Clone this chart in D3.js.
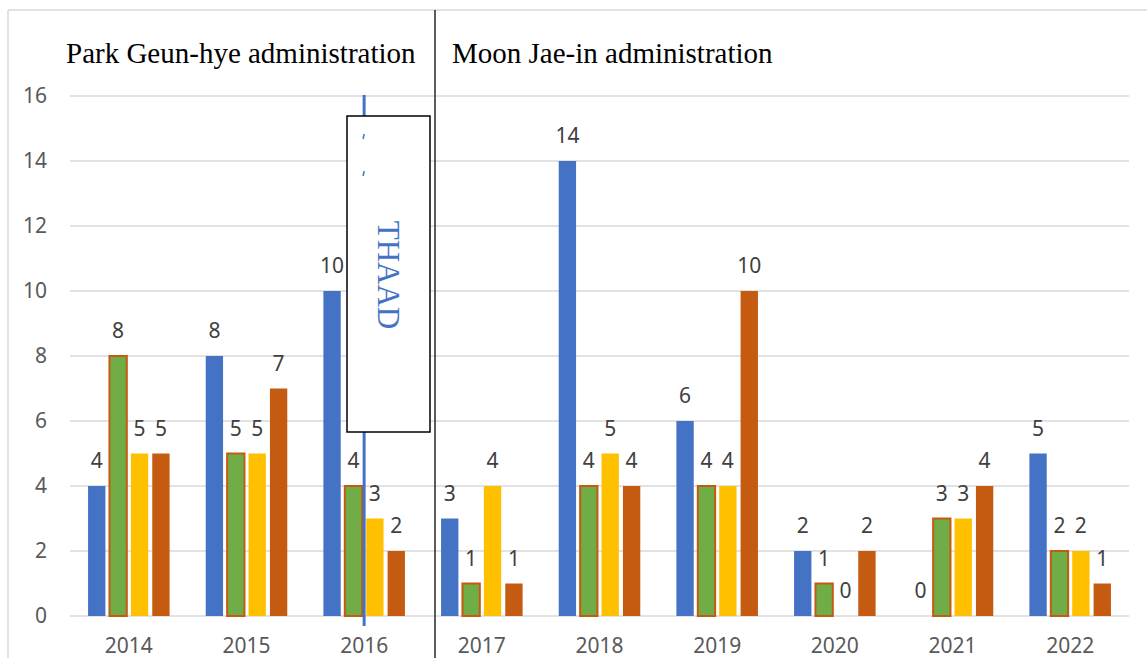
<!DOCTYPE html>
<html>
<head>
<meta charset="utf-8">
<script src="https://cdn.jsdelivr.net/npm/d3@7"></script>
<style>
  body { margin: 0; background: #fff; }
  svg { display: block; }
</style>
</head>
<body>
<svg id="chart"></svg>
<script>
// data
const years = ['2014', '2015', '2016', '2017', '2018', '2019', '2020', '2021', '2022'];
const seriesKeys = ['s1', 's2', 's3', 's4'];
const s1Values = [4, 8, 10, 3, 14, 6, 2, 0, 5];
const s2Values = [8, 5, 4, 1, 4, 4, 1, 3, 2];
const s3Values = [5, 5, 3, 4, 5, 4, 0, 3, 2];
const s4Values = [5, 7, 2, 1, 4, 10, 2, 4, 1];
const yTicks = [0, 2, 4, 6, 8, 10, 12, 14, 16];
const leftTitle = 'Park Geun-hye administration';
const rightTitle = 'Moon Jae-in administration';
const markerLabel = 'THAAD';

const colors = { s1: '#4472C4', s2: '#70AD47', s3: '#FFC000', s4: '#C55A11' };

const width = 1147, height = 658;
const margin = { left: 70, right: 18, top: 96, bottom: 42 };

const rows = years.map((y, i) => ({
    year: y,
    s1: s1Values[i], s2: s2Values[i], s3: s3Values[i], s4: s4Values[i]
}));

const svg = d3.select('#chart')
    .attr('width', width)
    .attr('height', height);

// outer frame (only top and left edges show)
svg.append('line')
    .attr('x1', 8).attr('x2', width).attr('y1', 10).attr('y2', 10)
    .attr('stroke', '#d9d9d9').attr('stroke-width', 1.5);
svg.append('line')
    .attr('x1', 8).attr('x2', 8).attr('y1', 10).attr('y2', height)
    .attr('stroke', '#d9d9d9').attr('stroke-width', 1.5);

const x0 = d3.scaleBand()
    .domain(years)
    .range([margin.left, width - margin.right])
    .paddingInner(0.307)
    .paddingOuter(0.1535);

const x1 = d3.scaleBand()
    .domain(seriesKeys)
    .range([0, x0.bandwidth()])
    .paddingInner(0.19);

const y = d3.scaleLinear()
    .domain([0, 16])
    .range([height - margin.bottom, margin.top]);

// gridlines
svg.append('g')
    .selectAll('line')
    .data(yTicks)
    .join('line')
    .attr('x1', margin.left)
    .attr('x2', width - margin.right)
    .attr('y1', d => y(d))
    .attr('y2', d => y(d))
    .attr('stroke', '#d9d9d9')
    .attr('stroke-width', 1.5);

// y axis
const yAxisG = svg.append('g')
    .attr('transform', `translate(${margin.left},0)`)
    .call(d3.axisLeft(y).tickValues(yTicks).tickSize(0).tickPadding(23))
    .call(g => g.select('.domain').remove());
yAxisG.selectAll('text')
    .attr('font-family', '"Noto Sans", sans-serif')
    .attr('font-size', 21)
    .attr('fill', '#595959');

// x axis
const xAxisG = svg.append('g')
    .attr('transform', `translate(0,${y(0)})`)
    .call(d3.axisBottom(x0).tickSize(0).tickPadding(22))
    .call(g => g.select('.domain').remove());
xAxisG.selectAll('text')
    .attr('font-family', '"Noto Sans", sans-serif')
    .attr('font-size', 21)
    .attr('fill', '#595959');

// bars
const groups = svg.append('g')
    .selectAll('g')
    .data(rows)
    .join('g')
    .attr('transform', d => `translate(${x0(d.year)},0)`);

groups.selectAll('rect')
    .data(d => seriesKeys.map(k => ({ key: k, value: d[k] })))
    .join('rect')
    .attr('x', d => x1(d.key))
    .attr('y', d => y(d.value))
    .attr('width', x1.bandwidth())
    .attr('height', d => y(0) - y(d.value))
    .attr('fill', d => colors[d.key])
    .attr('stroke', d => d.key === 's2' ? '#C55A11' : 'none')
    .attr('stroke-width', 2);

// value labels
groups.selectAll('text.val')
    .data(d => seriesKeys.map(k => ({ key: k, value: d[k] })))
    .join('text')
    .attr('class', 'val')
    .attr('x', d => x1(d.key) + x1.bandwidth() / 2)
    .attr('y', d => y(d.value) - 18)
    .attr('text-anchor', 'middle')
    .attr('font-family', '"Noto Sans", sans-serif')
    .attr('font-size', 21)
    .attr('fill', '#404040')
    .text(d => d.value);

// administration divider
svg.append('line')
    .attr('x1', 435).attr('x2', 435).attr('y1', 10).attr('y2', height)
    .attr('stroke', '#262626').attr('stroke-width', 1.5);

// titles
svg.append('text')
    .attr('x', 66).attr('y', 63)
    .attr('font-family', '"Liberation Serif", "Times New Roman", serif')
    .attr('font-size', 29)
    .attr('fill', '#000')
    .text(leftTitle);
svg.append('text')
    .attr('x', 452).attr('y', 63)
    .attr('font-family', '"Liberation Serif", "Times New Roman", serif')
    .attr('font-size', 29)
    .attr('fill', '#000')
    .text(rightTitle);

// THAAD marker line, between the 2016 green and yellow bars
const markX = x0('2016') + x1('s2') + x1.bandwidth() + 2;
svg.append('line')
    .attr('x1', markX).attr('x2', markX)
    .attr('y1', y(16) - 1).attr('y2', y(0) + 10)
    .attr('stroke', '#4472C4').attr('stroke-width', 3);

// text box over the marker
svg.append('rect')
    .attr('x', 347).attr('y', 116)
    .attr('width', 83).attr('height', 316)
    .attr('fill', '#fff')
    .attr('stroke', '#000')
    .attr('stroke-width', 1.5);

// tiny blue fragments that show through the box
[136, 173].forEach(t => {
    svg.append('line')
        .attr('x1', markX).attr('x2', markX - 1)
        .attr('y1', t - 2).attr('y2', t + 3)
        .attr('stroke', '#4472C4').attr('stroke-width', 1.5);
});

svg.append('text')
    .attr('transform', 'translate(388,275) rotate(90)')
    .attr('text-anchor', 'middle')
    .attr('dominant-baseline', 'central')
    .attr('font-family', '"Liberation Serif", "Times New Roman", serif')
    .attr('font-size', 31)
    .attr('fill', '#4472C4')
    .text(markerLabel);
</script>
</body>
</html>
